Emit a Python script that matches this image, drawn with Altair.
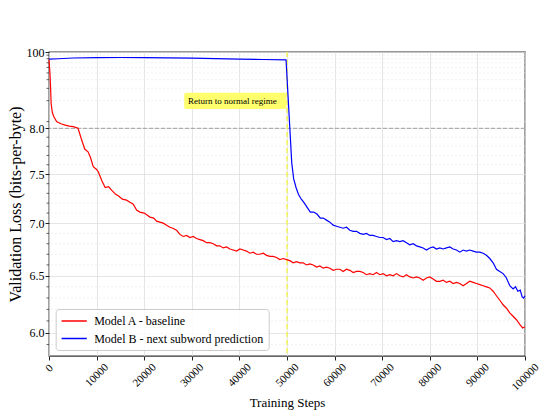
import altair as alt
import pandas as pd

# ---------------- data ----------------
steps_a = [0, 200, 350, 450, 700, 1000, 1600, 2500, 3400, 4300, 5100, 6100, 6800, 7500, 8200,
           8700, 9300, 10000, 10400, 11100, 11800, 12500, 13200, 14000, 14700, 15400, 16300,
           17000, 17700, 18400, 19100, 20000, 20600, 21200, 22000, 22600, 23300, 24000, 24700,
           25400, 26000, 26800, 27500, 28200, 28900, 29600, 30300, 31000, 31700, 32400, 33100,
           33800, 34500, 35200, 35900, 36600, 37300, 38000, 38700, 39400, 40100, 40800, 41500,
           42200, 42900, 43600, 44300, 45000, 45700, 46400, 47100, 47800, 48500, 49200, 49900,
           50600, 51300, 52000, 52700, 53400, 54100, 54800, 55500, 56200, 56900, 57600, 58300,
           59000, 59700, 60400, 61100, 61800, 62500, 63200, 63900, 64600, 65300, 66000, 66700,
           67400, 68100, 68800, 69500, 70200, 70900, 71600, 72300, 73000, 73700, 74400, 75100,
           75800, 76500, 77200, 77900, 78600, 79300, 80000, 80700, 81400, 82100, 82800, 83500,
           84200, 84900, 85600, 86300, 87000, 87700, 88400, 89100, 89800, 90500, 91200, 91900,
           92600, 93300, 94000, 94700, 95400, 96100, 96800, 97500, 98200, 98900, 99500, 100000]
loss_a = [78, 50, 29, 18, 13.5, 11.8, 10.0, 9.3, 8.9, 8.6, 8.44, 8.02, 7.88, 7.77, 7.74,
          7.68, 7.58, 7.55, 7.52, 7.43, 7.36, 7.37, 7.33, 7.29, 7.27, 7.24, 7.23,
          7.21, 7.19, 7.13, 7.11, 7.10, 7.08, 7.06, 7.05, 7.02, 7.01, 7.00, 6.98,
          6.96, 6.95, 6.93, 6.89, 6.87, 6.88, 6.86, 6.87, 6.85, 6.84, 6.83, 6.81,
          6.81, 6.80, 6.78, 6.78, 6.76, 6.77, 6.75, 6.74, 6.73, 6.75, 6.74, 6.73,
          6.71, 6.72, 6.70, 6.70, 6.71, 6.69, 6.68, 6.68, 6.67, 6.65, 6.66, 6.65,
          6.64, 6.62, 6.63, 6.62, 6.62, 6.60, 6.61, 6.60, 6.58, 6.59, 6.57, 6.58,
          6.57, 6.55, 6.56, 6.56, 6.54, 6.56, 6.55, 6.53, 6.54, 6.54, 6.53, 6.51,
          6.52, 6.51, 6.53, 6.51, 6.52, 6.50, 6.51, 6.50, 6.52, 6.50, 6.49, 6.51,
          6.49, 6.48, 6.49, 6.48, 6.46, 6.48, 6.49, 6.47, 6.45, 6.45, 6.46, 6.44,
          6.45, 6.43, 6.44, 6.43, 6.41, 6.43, 6.45, 6.44, 6.43, 6.42, 6.41, 6.40,
          6.39, 6.36, 6.32, 6.28, 6.24, 6.21, 6.17, 6.14, 6.11, 6.07, 6.04, 6.05]

steps_b = [0, 2000, 5000, 10000, 15000, 20000, 25000, 30000, 35000, 40000, 45000, 49800,
           51000, 51400, 51900, 52400, 53000, 53500, 54200, 54900, 55600, 56300, 57000, 57600,
           58300, 59000, 59700, 60400, 61100, 61800, 62500, 63200, 63900, 64600, 65300, 66000,
           66700, 67400, 68100, 68800, 69500, 70200, 70900, 71600, 72300, 73000, 73700, 74400,
           75100, 75800, 76500, 77200, 77900, 78600, 79300, 80000, 80700, 81400, 82100, 82800,
           83500, 84200, 84900, 85600, 86300, 87000, 87700, 88400, 89100, 89800, 90500, 91200,
           91900, 92600, 93300, 94000, 94700, 95400, 96100, 96800, 97500, 98000, 98500, 99000,
           99400, 99700, 100000]
loss_b = [79, 80, 82, 83, 83.3, 83, 82.5, 81.5, 80.5, 79, 78, 77,
          7.62, 7.45, 7.36, 7.29, 7.24, 7.21, 7.16, 7.11, 7.11, 7.09, 7.05, 7.05,
          7.03, 7.01, 6.98, 6.97, 6.96, 6.95, 6.96, 6.93, 6.92, 6.92, 6.90, 6.89,
          6.90, 6.88, 6.88, 6.87, 6.86, 6.86, 6.84, 6.85, 6.82, 6.83, 6.82, 6.83,
          6.81, 6.79, 6.80, 6.78, 6.77, 6.76, 6.74, 6.76, 6.77, 6.75, 6.76, 6.75,
          6.76, 6.77, 6.75, 6.74, 6.72, 6.74, 6.73, 6.74, 6.73, 6.72, 6.72, 6.71,
          6.69, 6.66, 6.62, 6.56, 6.54, 6.52, 6.48, 6.41, 6.38, 6.40, 6.36, 6.37,
          6.31, 6.30, 6.32]

series_names = ["Model A - baseline", "Model B - next subword prediction"]
series_colors = ["#ff0000", "#0000ff"]

x_ticks = [0, 10000, 20000, 30000, 40000, 50000, 60000, 70000, 80000, 90000, 100000]
y_major = [6.0, 6.5, 7.0, 7.5, 8.0, 100.0]
y_minor = [5.9, 6.1, 6.2, 6.3, 6.4, 6.6, 6.7, 6.8, 6.9, 7.1, 7.2, 7.3, 7.4,
           7.6, 7.7, 7.8, 7.9, 10, 20, 30, 40, 50, 60, 70, 80, 90]
threshold = [8.0]
regime_step = [50000]
annot_text = ["Return to normal regime"]
annot_x = [38500]
annot_y = [19.8]
annot_box_x0 = [28400]
annot_box_x1 = [49900]
annot_box_y0 = [15.2]
annot_box_y1 = [25.9]

# ---------------- chart ----------------
FONT = "Liberation Serif"
W, H = 476, 304

df = pd.DataFrame({
    "step": steps_a + steps_b,
    "loss": loss_a + loss_b,
    "model": [series_names[0]] * len(steps_a) + [series_names[1]] * len(steps_b),
})

x_scale = alt.Scale(domain=[0, 100000], nice=False)
y_scale = alt.Scale(type="log", domain=[5.806, 8.0, 100.0], range=[H, 76.3, 0], nice=False)

x_axis = alt.Axis(values=x_ticks, format="d", labelAngle=-45, labelAlign="center",
                  labelBaseline="middle",
                  labelPadding={"condition": [{"test": "datum.value == 0", "value": 8},
                                              {"test": "datum.value == 100000", "value": 17}],
                                "value": 15},
                  labelFlush=False, labelOverlap=False, tickSize=4, grid=True,
                  gridColor="#dedede", gridWidth=0.8, domain=False, titlePadding=4,
                  labelFontSize=11, titleFontSize=13)
y_axis = alt.Axis(values=y_major,
                  labelExpr="datum.value >= 100 ? '100' : format(datum.value, '.1f')",
                  tickSize=4, labelPadding=1, grid=True, gridColor="#dedede", gridWidth=0.8,
                  domain=False, titlePadding=3, labelFontSize=12, titleFontSize=16)

lines = alt.Chart(df).mark_line(strokeWidth=1.2).encode(
    x=alt.X("step:Q", scale=x_scale, title="Training Steps", axis=x_axis),
    y=alt.Y("loss:Q", scale=y_scale, title="Validation Loss (bits-per-byte)", axis=y_axis),
    color=alt.Color("model:N", scale=alt.Scale(domain=series_names, range=series_colors),
                    legend=alt.Legend(title=None, orient="none", legendX=6.7, legendY=257,
                                      direction="vertical", symbolType="M-2.1,0H2.1",
                                      symbolSize=144, symbolStrokeWidth=1.5, symbolOffset=6.5,
                                      labelOffset=13, labelFont=FONT, labelFontSize=12,
                                      labelLimit=400,
                                      labelColor="#000000", padding=5, rowPadding=4.5,
                                      fillColor="rgba(255,255,255,0.85)", strokeColor="#cccccc",
                                      cornerRadius=3)),
)

minor_df = pd.DataFrame({"v": y_minor})

minor_grid = alt.Chart(minor_df).mark_rule(color="#ebebeb", strokeDash=[2, 2], strokeWidth=0.7).encode(
    y=alt.Y("v:Q", scale=y_scale, title="Validation Loss (bits-per-byte)", axis=y_axis)
)
minor_ticks = alt.Chart(minor_df).mark_rule(color="#222222", strokeWidth=0.7).encode(
    y=alt.Y("v:Q", scale=y_scale, title="Validation Loss (bits-per-byte)", axis=y_axis),
    x=alt.value(-2.5), x2=alt.value(0)
)

thr = alt.Chart(pd.DataFrame({"v": threshold})).mark_rule(
    color="#a0a0a0", strokeDash=[4, 2], strokeWidth=1
).encode(y=alt.Y("v:Q", scale=y_scale, title="Validation Loss (bits-per-byte)", axis=y_axis))

vline = alt.Chart(pd.DataFrame({"s": regime_step})).mark_rule(
    color="#f2f25a", strokeDash=[5, 3], strokeWidth=1.5
).encode(x=alt.X("s:Q", scale=x_scale, title="Training Steps", axis=x_axis))

box_df = pd.DataFrame({"x0": annot_box_x0, "x1": annot_box_x1, "y0": annot_box_y0, "y1": annot_box_y1})
box = alt.Chart(box_df).mark_rect(color="#ffff66", cornerRadius=2, opacity=0.95).encode(
    x=alt.X("x0:Q", scale=x_scale, title="Training Steps", axis=x_axis), x2="x1:Q",
    y=alt.Y("y0:Q", scale=y_scale, title="Validation Loss (bits-per-byte)", axis=y_axis), y2="y1:Q",
)
txt_df = pd.DataFrame({"x": annot_x, "y": annot_y, "t": annot_text})
txt = alt.Chart(txt_df).mark_text(font=FONT, fontSize=9, color="#000000", align="center", baseline="middle").encode(
    x=alt.X("x:Q", scale=x_scale, title="Training Steps", axis=x_axis),
    y=alt.Y("y:Q", scale=y_scale, title="Validation Loss (bits-per-byte)", axis=y_axis),
    text="t:N",
)

chart = alt.layer(minor_grid, thr, vline, box, txt, minor_ticks, lines).properties(
    width=W, height=H,
    padding={"left": 49, "top": 52, "right": 20, "bottom": 60},
    autosize=alt.AutoSizeParams(type="none"),
).configure_axis(
    labelFont=FONT, titleFont=FONT, labelColor="#000000", titleColor="#000000",
    tickColor="#222222", titleFontWeight="normal",
).configure_view(stroke="#333333", strokeWidth=1.3)

chart.save("out.html", embed_options={"renderer": "svg", "actions": False})
